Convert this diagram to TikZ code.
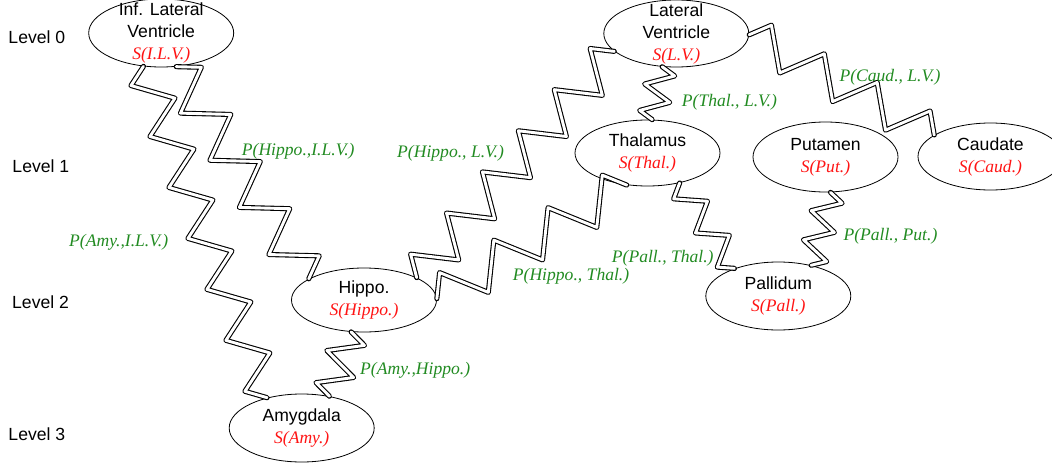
\documentclass[tikz,border=0pt]{standalone}
\usepackage{fontspec}
\setmainfont{Liberation Serif}
\setsansfont{Liberation Sans}
\usetikzlibrary{shapes.geometric,decorations}
\definecolor{pgreen}{RGB}{34,139,34}
\definecolor{sred}{RGB}{255,20,20}

% zigzag with a fixed number of half periods spread over the whole path
\def\coilhalves{4}
\pgfkeys{/pgf/decoration/halves/.store in=\coilhalves}
\pgfdeclaredecoration{coilzig}{first}{
  \state{first}[width=\pgfdecoratedpathlength/\coilhalves-0.01pt, next state=down]{
    \pgfpathlineto{\pgfpoint{\pgfdecoratedpathlength/\coilhalves/2}{\pgfdecorationsegmentamplitude}}
  }
  \state{down}[switch if less than=\pgfdecoratedpathlength/\coilhalves-0.01pt to finish,
               width=\pgfdecoratedpathlength/\coilhalves-0.01pt, next state=up]{
    \pgfpathlineto{\pgfpoint{\pgfdecoratedpathlength/\coilhalves/2}{-1*\pgfdecorationsegmentamplitude}}
  }
  \state{up}[switch if less than=\pgfdecoratedpathlength/\coilhalves-0.01pt to finish,
             width=\pgfdecoratedpathlength/\coilhalves-0.01pt, next state=down]{
    \pgfpathlineto{\pgfpoint{\pgfdecoratedpathlength/\coilhalves/2}{\pgfdecorationsegmentamplitude}}
  }
  \state{finish}[width=0pt, next state=final]{\pgfpathlineto{\pgfpointorigin}}
  \state{final}{\pgfpathlineto{\pgfpointdecoratedpathlast}}
}

\tikzset{
  region/.style={ellipse, draw, line width=0.8pt, fill=white,
    minimum width=145pt, minimum height=68pt, inner sep=0pt},
  regname/.style={align=center, inner sep=0pt,
    font=\sffamily\fontsize{17.6}{22}\selectfont},
  lvl/.style={anchor=base west, inner sep=0pt,
    font=\sffamily\fontsize{17.6}{22}\selectfont},
  plabel/.style={anchor=base west, inner sep=0pt, text=pgreen,
    font=\rmfamily\itshape\fontsize{17.6}{22}\selectfont},
  springline/.style 2 args={draw, line width=1.1pt, double=white,
    double distance=2.9pt, line join=round, line cap=round, decorate,
    decoration={coilzig, amplitude=#1, halves=#2}},
}
\newcommand\sname[1]{\textcolor{sred}{\rmfamily\itshape #1}}

\begin{document}
\begin{tikzpicture}[x=1pt, y=-1pt]
\useasboundingbox (0,0) rectangle (1052,463);

% brain regions
\node[region] (ilv)  at (161.2,33)  {};
\node[region, minimum height=67pt] (lv)   at (676.3,33.5) {};
\node[region, minimum height=66pt] (thal) at (647.5,153)  {};
\node[region, minimum height=70pt] (put)  at (825.5,157)  {};
\node[region, minimum height=67pt] (caud) at (990.5,156.5) {};
\node[region, minimum height=64pt] (hip)  at (364,300)    {};
\node[region] (pall) at (778.3,296)  {};
\node[region] (amy)  at (301.7,428)  {};

% springs between regions
\draw[springline={21}{9}]     (ilv.-66)     -- (hip.159);
\draw[springline={-18.4}{13}] (ilv.-118.9)  -- (amy.139.1);
\draw[springline={17}{4}]     (hip.-112.4)  -- (amy.49.6);
\draw[springline={14}{4}]     (lv.-113.9)   -- (thal.82.5);
\draw[springline={19}{7}]     (lv.-1.1)     -- (caud.159.2);
\draw[springline={-13.6}{5}]  (thal.-43)    -- (pall.148);
\draw[springline={14}{5}]     (put.-82.9)   -- (pall.43);
\draw[springline={20}{11}]    (hip.23.3)    -- (lv.-164);
\draw[springline={21}{7}]     (hip.1.3)     -- (thal.-123.2);

% region names
\node[regname] (ilvt)  at (ilv)  {Inf. Lateral\\Ventricle\\\sname{S(I.L.V.)}};
\node[regname] (lvt)   at (lv)   {Lateral\\Ventricle\\\sname{S(L.V.)}};
\node[regname] (thalt) at (thal) {Thalamus\\\sname{S(Thal.)}};
\node[regname] (putt)  at (put)  {Putamen\\\sname{S(Put.)}};
\node[regname] (caudt) at (caud) {Caudate\\\sname{S(Caud.)}};
\node[regname] (hipt)  at (hip)  {Hippo.\\\sname{S(Hippo.)}};
\node[regname] (pallt) at (pall) {Pallidum\\\sname{S(Pall.)}};
\node[regname] (amyt)  at (amy)  {Amygdala\\\sname{S(Amy.)}};

% levels
\node[lvl] (lev0) at (8.3,43)  {Level 0};
\node[lvl] (lev1) at (12.3,172) {Level 1};
\node[lvl] (lev2) at (12,308)  {Level 2};
\node[lvl] (lev3) at (8.3,440) {Level 3};

% spring labels
\node[plabel] (p1) at (241.7,155)  {P(Hippo.,I.L.V.)};
\node[plabel] (p2) at (69,246.7)   {P(Amy.,I.L.V.)};
\node[plabel] (p3) at (397,157)    {P(Hippo., L.V.)};
\node[plabel] (p4) at (512.7,280)  {P(Hippo., Thal.)};
\node[plabel] (p5) at (611.7,262.7) {P(Pall., Thal.)};
\node[plabel] (p6) at (681.7,106)  {P(Thal., L.V.)};
\node[plabel] (p7) at (839.3,81.7) {P(Caud., L.V.)};
\node[plabel] (p8) at (843.3,240)  {P(Pall., Put.)};
\node[plabel] (p9) at (360,374)    {P(Amy.,Hippo.)};
\end{tikzpicture}
\end{document}
